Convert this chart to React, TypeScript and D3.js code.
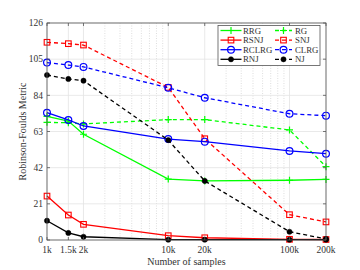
import React from "react";
import * as d3 from "d3";

const samples = [1000, 1500, 2000, 10000, 20000, 100000, 200000];
const xTickLabels = ["1k", "1.5k", "2k", "10k", "20k", "100k", "200k"];
const yTicks = [0, 21, 42, 63, 84, 105, 126];

const rrg = [71.8, 69.1, 61.4, 35.4, 34.3, 34.7, 35.2];
const rg = [68.3, 68.1, 67.4, 69.9, 69.9, 63.9, 42.6];
const rsnj = [25.5, 14.5, 9.1, 2.5, 1.3, 0.4, 0.3];
const snj = [114.8, 114.0, 113.2, 88.6, 58.8, 14.7, 10.5];
const rclrg = [73.9, 69.7, 66.2, 58.6, 57.1, 51.7, 50.1];
const clrg = [103.0, 101.6, 100.5, 88.4, 82.6, 73.3, 72.2];
const rnj = [11.2, 4.1, 1.9, 0.2, 0.2, 0.2, 0.2];
const nj = [95.8, 93.5, 92.5, 58.0, 34.3, 4.8, 0.6];

type Series = { name: string; values: number[]; color: string; dashed: boolean; marker: string };
const series: Series[] = [
  { name: "RRG", values: rrg, color: "#00ff00", dashed: false, marker: "plus" },
  { name: "RG", values: rg, color: "#00ff00", dashed: true, marker: "plus" },
  { name: "RSNJ", values: rsnj, color: "#ff0000", dashed: false, marker: "square" },
  { name: "SNJ", values: snj, color: "#ff0000", dashed: true, marker: "square" },
  { name: "RCLRG", values: rclrg, color: "#0000ff", dashed: false, marker: "circle" },
  { name: "CLRG", values: clrg, color: "#0000ff", dashed: true, marker: "circle" },
  { name: "RNJ", values: rnj, color: "#000000", dashed: false, marker: "dot" },
  { name: "NJ", values: nj, color: "#000000", dashed: true, marker: "dot" },
];

const L = 47, R = 326, T = 23, B = 240;
const FONT = "'Liberation Serif', 'Times New Roman', serif";

function Marker({ type, x, y, color }: { type: string; x: number; y: number; color: string }) {
  if (type === "plus") {
    return (
      <path d={`M${x - 3.5},${y}H${x + 3.5}M${x},${y - 3.5}V${y + 3.5}`} stroke={color} strokeWidth={1.2} fill="none" />
    );
  }
  if (type === "square") {
    return <rect x={x - 2.8} y={y - 2.8} width={5.6} height={5.6} stroke={color} strokeWidth={1.1} fill="none" />;
  }
  if (type === "circle") {
    return <circle cx={x} cy={y} r={3.4} stroke={color} strokeWidth={1.2} fill="none" />;
  }
  return <circle cx={x} cy={y} r={2.6} fill={color} stroke={color} strokeWidth={0.5} />;
}

export default function App() {
  const x = d3.scaleLog().domain([1000, 200000]).range([L, R]);
  const y = d3.scaleLinear().domain([0, 126]).range([B, T]);
  const line = d3
    .line<number>()
    .x((_, i) => x(samples[i]))
    .y((v) => y(v));

  const minor: number[] = [];
  for (let d = 1000; d < 200000; d *= 10) {
    for (let k = 1; k < 10; k++) {
      const v = d * k;
      if (v > 1000 && v < 200000 && !samples.includes(v)) minor.push(v);
    }
  }

  const legendRows = [0, 1, 2, 3];
  const lx = 218, ly = 25.5, lw = 102, lh = 40;

  return (
    <svg width={360} height={270} style={{ position: "absolute", left: 0, top: 0, background: "#fff" }} fontFamily={FONT}>
      {/* grid */}
      {minor.map((v) => (
        <line key={"m" + v} x1={x(v)} x2={x(v)} y1={T} y2={B} stroke="#c8c8c8" strokeWidth={0.6} strokeDasharray="1,1.5" />
      ))}
      {samples.map((v) => (
        <line key={"gx" + v} x1={x(v)} x2={x(v)} y1={T} y2={B} stroke="#e3e3e3" strokeWidth={0.8} />
      ))}
      {yTicks.map((v) => (
        <line key={"gy" + v} x1={L} x2={R} y1={y(v)} y2={y(v)} stroke="#e3e3e3" strokeWidth={0.8} />
      ))}
      {/* series */}
      {series.map((s) => (
        <g key={s.name}>
          <path
            d={line(s.values) || ""}
            fill="none"
            stroke={s.color}
            strokeWidth={1.3}
            strokeDasharray={s.dashed ? "4,3" : undefined}
          />
          {s.values.map((v, i) => (
            <Marker key={i} type={s.marker} x={x(samples[i])} y={y(v)} color={s.color} />
          ))}
        </g>
      ))}
      {/* axes box */}
      <rect x={L} y={T} width={R - L} height={B - T} fill="none" stroke="#555" strokeWidth={0.8} />
      {yTicks.map((v) => (
        <g key={"ty" + v}>
          <line x1={L} x2={L + 3} y1={y(v)} y2={y(v)} stroke="#555" strokeWidth={0.8} />
          <line x1={R - 3} x2={R} y1={y(v)} y2={y(v)} stroke="#555" strokeWidth={0.8} />
          <text x={L - 4} y={y(v) + 3.2} fontSize={9.5} textAnchor="end" fill="#333">
            {v}
          </text>
        </g>
      ))}
      {samples.map((v, i) => (
        <g key={"tx" + v}>
          <line x1={x(v)} x2={x(v)} y1={B} y2={B - 3} stroke="#555" strokeWidth={0.8} />
          <line x1={x(v)} x2={x(v)} y1={T} y2={T + 3} stroke="#555" strokeWidth={0.8} />
          <text x={x(v)} y={B + 12.5} fontSize={9.5} textAnchor="middle" fill="#333">
            {xTickLabels[i]}
          </text>
        </g>
      ))}
      <text x={(L + R) / 2} y={264.5} fontSize={10} textAnchor="middle" fill="#333">
        Number of samples
      </text>
      <text
        transform={`translate(26,${(T + B) / 2}) rotate(-90)`}
        fontSize={10}
        textAnchor="middle"
        fill="#333"
      >
        Robinson-Foulds Metric
      </text>
      {/* legend */}
      <rect x={lx} y={ly} width={lw} height={lh} fill="#fff" stroke="#555" strokeWidth={0.8} />
      {series.map((s, i) => {
        const col = i % 2;
        const row = legendRows[Math.floor(i / 2)];
        const yy = 30.5 + row * 9.6;
        const x1 = col === 0 ? 220.5 : 275;
        const x2 = col === 0 ? 241.5 : 292;
        const tx = col === 0 ? 243 : 295;
        return (
          <g key={"lg" + s.name}>
            <line x1={x1} x2={x2} y1={yy} y2={yy} stroke={s.color} strokeWidth={1.3} strokeDasharray={s.dashed ? "4,3" : undefined} />
            <Marker type={s.marker} x={(x1 + x2) / 2} y={yy} color={s.color} />
            <text x={tx} y={yy + 3} fontSize={8.8} fill="#333">
              {s.name}
            </text>
          </g>
        );
      })}
    </svg>
  );
}
